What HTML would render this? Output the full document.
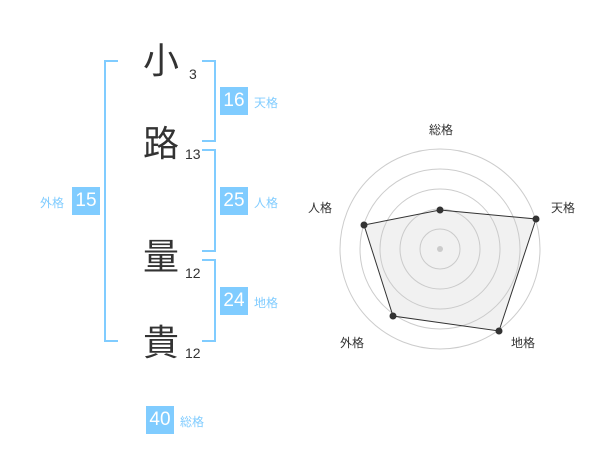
<!DOCTYPE html>
<html><head><meta charset="utf-8"><style>
body{margin:0;width:600px;height:470px;background:#fff;position:relative;font-family:"Liberation Sans","Noto Sans CJK JP",sans-serif;overflow:hidden}
.a{position:absolute}
.k{font-size:36px;color:#333;line-height:40px}
.n{font-size:14px;color:#333}
.b{background:#80ccff;color:#fff;font-size:19px;width:28px;height:28px;line-height:28px;text-align:center}
.l{font-size:12px;color:#80ccff}
.br{border:2px solid #80ccff}
</style></head><body>
<div class="a br" style="left:104px;top:60px;width:12px;height:278px;border-right:none"></div>
<div class="a br" style="left:202px;top:60px;width:12px;height:78px;border-left:none"></div>
<div class="a br" style="left:202px;top:149px;width:12px;height:99px;border-left:none"></div>
<div class="a br" style="left:202px;top:259px;width:12px;height:79px;border-left:none"></div>
<div class="a k" style="left:143px;top:41px">小</div>
<div class="a k" style="left:143px;top:124px">路</div>
<div class="a k" style="left:143px;top:237px">量</div>
<div class="a k" style="left:143px;top:323px">貴</div>
<div class="a n" style="left:189px;top:66px">3</div>
<div class="a n" style="left:185px;top:146px">13</div>
<div class="a n" style="left:185px;top:265px">12</div>
<div class="a n" style="left:185px;top:345px">12</div>
<div class="a b" style="left:220px;top:87px">16</div><div class="a l" style="left:254px;top:94px">天格</div>
<div class="a b" style="left:220px;top:187px">25</div><div class="a l" style="left:254px;top:194px">人格</div>
<div class="a b" style="left:220px;top:287px">24</div><div class="a l" style="left:254px;top:294px">地格</div>
<div class="a b" style="left:72px;top:187px">15</div><div class="a l" style="left:40px;top:194px">外格</div>
<div class="a b" style="left:146px;top:406px">40</div><div class="a l" style="left:180px;top:413px">総格</div>
<svg class="a" style="left:0;top:0" width="600" height="470">
<g fill="none" stroke="#ccc" stroke-width="1">
<circle cx="440" cy="249" r="20"/><circle cx="440" cy="249" r="40"/><circle cx="440" cy="249" r="60"/><circle cx="440" cy="249" r="80"/><circle cx="440" cy="249" r="100"/></g>
<circle cx="440" cy="249" r="3" fill="#ccc"/>
<polygon points="440,210 536,219 499,331 393,316 364,225" fill="rgba(200,200,200,0.25)" stroke="#333" stroke-width="1"/>
<g fill="#333"><circle cx="440" cy="210" r="3.5"/><circle cx="536" cy="219" r="3.5"/><circle cx="499" cy="331" r="3.5"/><circle cx="393" cy="316" r="3.5"/><circle cx="364" cy="225" r="3.5"/></g>
<g font-size="12" fill="#333" text-anchor="middle" font-family="Liberation Sans,Noto Sans CJK JP,sans-serif">
<text x="441" y="134">総格</text><text x="563" y="212">天格</text><text x="523" y="347">地格</text><text x="352" y="347">外格</text><text x="320" y="212">人格</text></g>
</svg>
</body></html>
